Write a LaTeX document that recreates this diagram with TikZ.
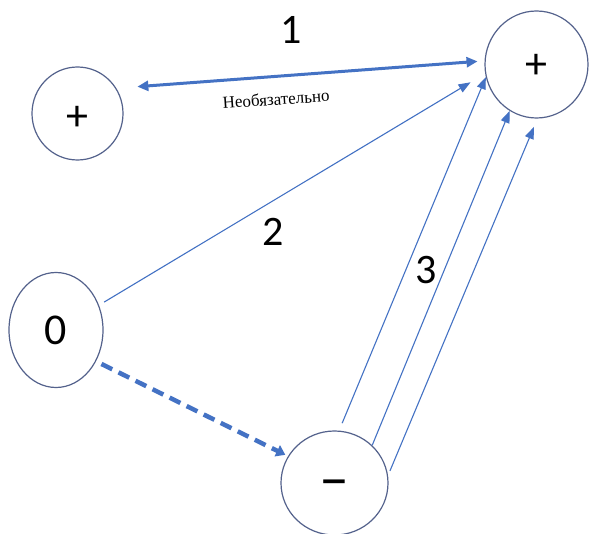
\documentclass[tikz,border=0pt]{standalone}
\usepackage{fontspec}
\setmainfont{Carlito}
\newfontfamily\timesf{Liberation Serif}
\usetikzlibrary{arrows.meta,shapes.geometric}
\definecolor{lineblue}{RGB}{68,114,196}
\definecolor{ringc}{RGB}{84,98,140}
\begin{document}
\begin{tikzpicture}[x=1pt,y=-1pt,
  state/.style={ellipse, draw=ringc, line width=1.2pt, inner sep=0pt, font=\fontsize{44}{50}\selectfont},
  thinconn/.style={draw=lineblue, line width=1.1pt, -{Triangle[length=12pt,width=9pt]}},
  boldconn/.style={draw=lineblue, line width=3pt, {Triangle[length=11pt,width=10pt]}-{Triangle[length=11pt,width=10pt]}},
  dashconn/.style={draw=lineblue, line width=4.5pt, dash pattern=on 12pt off 7pt, -{Triangle[length=9pt,width=12pt]}},
  numlabel/.style={font=\fontsize{42}{50}\selectfont, inner sep=0pt},
  smalllabel/.style={font=\timesf\fontsize{17}{20}\selectfont, inner sep=0pt}]
\useasboundingbox (0,0) rectangle (589,534);
\fill[white] (0,0) rectangle (589,534);

\node[state, minimum width=91pt, minimum height=93pt] (pa) at (77.5,113.5) {\raisebox{-5pt}[\height][\depth]{+}};
\node[state, minimum width=103pt, minimum height=107pt] (pb) at (536.5,64.5) {\raisebox{-2pt}[\height][\depth]{+}};
\node[state, minimum width=94pt, minimum height=115pt] (z) at (56,330) {0};
\node[state, minimum width=107pt, minimum height=104pt] (m) at (334.5,483) {\fontsize{60}{60}\selectfont\raisebox{-6pt}[\height][\depth]{–}};

\draw[boldconn, shorten <=21pt, shorten >=7pt] (pa.33) -- (pb.176);
\draw[thinconn, shorten <=6pt, shorten >=17pt] (z.30) -- (pb.190);
\draw[thinconn, shorten <=8pt] (m.85) -- (pb.194);
\draw[thinconn] (m.45) -- (pb.240);
\draw[thinconn, shorten <=5pt, shorten >=9pt] (m.8) -- (pb.271);
\draw[dashconn, shorten <=6pt, shorten >=3pt] (z.-38) -- (m.150);

\node[numlabel] (l1) at (291,30) {1};
\node[numlabel] (l2) at (273,232) {2};
\node[numlabel] (l3) at (426,270) {3};
\node[smalllabel, rotate=4] (opt) at (276,99) {Необязательно};
\end{tikzpicture}
\end{document}
